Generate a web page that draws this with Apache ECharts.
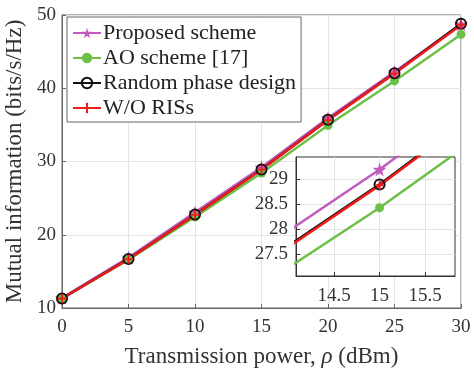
<!DOCTYPE html>
<html>
<head>
<meta charset="utf-8">
<script src="https://cdn.jsdelivr.net/npm/echarts@6/dist/echarts.min.js"></script>
<style>
  html, body { margin: 0; padding: 0; background: #fff; }
  #main { width: 474px; height: 371px; }
</style>
</head>
<body>
<div id="main"></div>
<script>
// transmission power (dBm)
var powerDbm = [0, 5, 10, 15, 20, 25, 30];

// mutual information (bits/s/Hz)
var proposed = [11.4, 16.9, 23.05, 29.2, 35.95, 42.25, 48.75];
var aoScheme = [11.3, 16.6, 22.43, 28.43, 34.95, 41.0, 47.35];
var randomPhase = [11.3, 16.7, 22.75, 28.9, 35.7, 42.05, 48.8];
var woRis = [11.3, 16.65, 22.72, 28.88, 35.65, 42.0, 48.65];

var insetXTicks = [14.5, 15, 15.5];
var insetYTicks = [27.5, 28, 28.5, 29];

var SERIF = '"Liberation Serif", "DejaVu Serif", serif';
var STAR = 'path://M50,0 L61,35 L98,35 L68,57 L79,91 L50,70 L21,91 L32,57 L2,35 L39,35 Z';
var PLUS = 'path://M4,0 L6,0 L6,4 L10,4 L10,6 L6,6 L6,10 L4,10 L4,6 L0,6 L0,4 L4,4 Z';

function pairs(ys) {
    return powerDbm.map(function (x, i) { return [x, ys[i]]; });
}

var styles = [
    { name: 'Proposed scheme', data: proposed, color: '#c05cbd', symbol: STAR, size: 14, fill: '#c05cbd' },
    { name: 'AO scheme [17]', data: aoScheme, color: '#6cbf47', symbol: 'circle', size: 9, fill: '#6cbf47' },
    { name: 'Random phase design', data: randomPhase, color: '#111111', symbol: 'circle', size: 10, fill: 'transparent' },
    { name: 'W/O RISs', data: woRis, color: '#f21b1b', symbol: PLUS, size: 9, fill: '#f21b1b' }
];

var series = [];
[0, 1].forEach(function (g) {
    styles.forEach(function (s) {
        series.push({
            name: s.name,
            type: 'line',
            xAxisIndex: g,
            yAxisIndex: g,
            data: pairs(s.data),
            symbol: s.symbol,
            symbolSize: s.size,
            showAllSymbol: true,
            clip: true,
            lineStyle: { color: s.color, width: 2.5 },
            itemStyle: {
                color: s.fill,
                borderColor: s.color,
                borderWidth: s.symbol === 'circle' && s.fill === 'transparent' ? 2 : 0
            },
            z: 3 + g * 10,
            animation: false
        });
    });
});

var chart = echarts.init(document.getElementById('main'));
chart.setOption({
    animation: false,
    legend: {
        data: styles.map(function (s) { return s.name; }),
        orient: 'vertical',
        left: 67,
        top: 17,
        padding: [5, 5, 3, 5],
        itemGap: 3,
        itemWidth: 28,
        itemHeight: 13,
        backgroundColor: '#fff',
        borderColor: '#666',
        borderWidth: 1,
        textStyle: { fontFamily: SERIF, fontSize: 22, color: '#222', padding: [0, 0, 0, -3], lineHeight: 22 },
        z: 20
    },
    grid: [
        { left: 62, right: 13, top: 15, bottom: 63, outerBoundsMode: 'none', containLabel: false, show: true, borderColor: '#666', borderWidth: 1, backgroundColor: '#fff' },
        { left: 296, right: 19, top: 157, bottom: 95, outerBoundsMode: 'none', containLabel: false, show: true, borderColor: '#333', borderWidth: 1, backgroundColor: '#fff', z: 10 }
    ],
    xAxis: [{
        type: 'value', gridIndex: 0, min: 0, max: 30, interval: 5,
        name: '{a|Transmission power, }{i|ρ}{a| (dBm)}',
        nameLocation: 'middle', nameGap: 37,
        nameTextStyle: { rich: {
            a: { fontFamily: SERIF, fontSize: 23, color: '#333' },
            i: { fontFamily: SERIF, fontSize: 23, color: '#333', fontStyle: 'italic' }
        } },
        axisLine: { lineStyle: { color: '#666' } },
        axisTick: { inside: true, length: 4, lineStyle: { color: '#666' } },
        axisLabel: { fontFamily: SERIF, fontSize: 19, color: '#333', margin: 10 },
        splitLine: { lineStyle: { color: '#e4e4e4' } }
    }, {
        type: 'value', gridIndex: 1, min: 14.08, max: 15.83,
        axisLine: { lineStyle: { color: '#333' } },
        axisTick: { inside: true, length: 4, customValues: insetXTicks, lineStyle: { color: '#333' } },
        axisLabel: { customValues: insetXTicks, fontFamily: SERIF, fontSize: 19, color: '#333', margin: 11 },
        splitLine: { lineStyle: { color: '#e4e4e4' } },
        z: 11
    }],
    yAxis: [{
        type: 'value', gridIndex: 0, min: 10, max: 50, interval: 10,
        name: 'Mutual information (bits/s/Hz)',
        nameLocation: 'middle', nameGap: 30,
        nameTextStyle: { fontFamily: SERIF, fontSize: 23, color: '#333' },
        axisLine: { lineStyle: { color: '#666' } },
        axisTick: { inside: true, length: 4, lineStyle: { color: '#666' } },
        axisLabel: { fontFamily: SERIF, fontSize: 19, color: '#333', margin: 6 },
        splitLine: { lineStyle: { color: '#e4e4e4' } }
    }, {
        type: 'value', gridIndex: 1, min: 27.06, max: 29.45,
        axisLine: { lineStyle: { color: '#333' } },
        axisTick: { inside: true, length: 4, customValues: insetYTicks, lineStyle: { color: '#333' } },
        axisLabel: { customValues: insetYTicks, fontFamily: SERIF, fontSize: 19, color: '#333', margin: 8 },
        splitLine: { lineStyle: { color: '#e4e4e4' } },
        z: 11
    }],
    series: series
});
</script>
</body>
</html>
